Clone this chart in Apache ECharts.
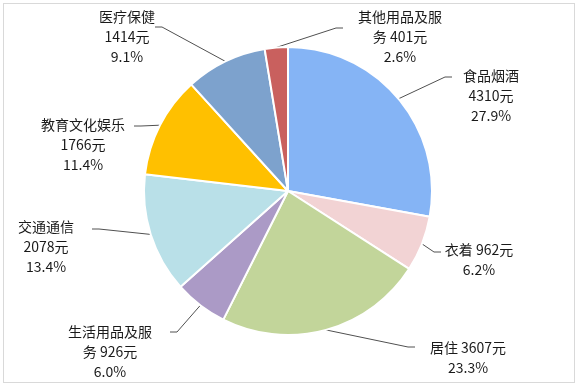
<!DOCTYPE html>
<html><head><meta charset="utf-8">
<script src="https://cdn.jsdelivr.net/npm/echarts@6/dist/echarts.min.js"></script>
<style>
html,body{margin:0;padding:0;background:#fff;}
#chart{position:absolute;left:0;top:0;width:580px;height:388px;}
#frame{position:absolute;left:3px;top:3px;width:570px;height:378px;border:1px solid #d9d9d9;pointer-events:none;}
</style></head>
<body>
<div id="chart"></div><div id="frame"></div>
<script>
const categories = ['食品烟酒','衣着','居住','生活用品及服务','交通通信','教育文化娱乐','医疗保健','其他用品及服务'];
const values = [4310, 962, 3607, 926, 2078, 1766, 1414, 401];
const colors = ['#85B4F5','#F2D3D4','#C2D59A','#AB9AC6','#B9E0E8','#FFC000','#7DA2CD','#C9605E'];
const labelLines = [
  ['食品烟酒', '{v}元', '{p}%'],
  ['衣着 {v}元', '{p}%'],
  ['居住 {v}元', '{p}%'],
  ['生活用品及服', '务 {v}元', '{p}%'],
  ['交通通信', '{v}元', '{p}%'],
  ['教育文化娱乐', '{v}元', '{p}%'],
  ['医疗保健', '{v}元', '{p}%'],
  ['其他用品及服', '务 {v}元', '{p}%']
];
// label placement: [text centre x, first line centre y, line end x, line end y]
const labelPlace = [
  [491, 76, 452, 77],
  [479, 250, 441, 252],
  [468, 348, 415, 347],
  [110, 332, 170, 332],
  [46, 227, 92, 229],
  [83, 125, 134, 126],
  [127, 17, 155, 27],
  [400, 17, 343, 28]
];
const total = values.reduce(function(a,b){return a+b;}, 0);

const chart = echarts.init(document.getElementById('chart'), null, {renderer:'canvas'});
chart.setOption({
  animation:false,
  color: colors,
  series:[{
    type:'pie',
    center:[288,191],
    radius:144,
    startAngle:90,
    clockwise:true,
    itemStyle:{borderColor:'#fff', borderWidth:2},
    label:{
      show:true,
      position:'outside',
      fontFamily:'"Noto Sans CJK SC", sans-serif',
      fontSize:14,
      lineHeight:20,
      color:'#1a1a1a',
      formatter:function(p){
        const pct = (p.value / total * 100).toFixed(1);
        return labelLines[p.dataIndex].map(function(s){
          return s.replace('{v}', p.value).replace('{p}', pct);
        }).join('\n');
      }
    },
    labelLine:{show:true, length:10, length2:10, lineStyle:{color:'#505050', width:1}},
    labelLayout:function(params){
      const i = params.dataIndex;
      const pl = labelPlace[i];
      const start = params.labelLinePoints ? params.labelLinePoints[0] : [pl[2], pl[3]];
      const dir = pl[2] > start[0] ? 1 : -1;
      return {
        x: pl[0], y: pl[1] - 10,
        align:'center', verticalAlign:'top',
        labelLinePoints:[start, [pl[2] - dir*7, pl[3]], [pl[2], pl[3]]]
      };
    },
    data: categories.map(function(c,i){ return {name:c, value:values[i]}; })
  }]
});
</script>
</body></html>
